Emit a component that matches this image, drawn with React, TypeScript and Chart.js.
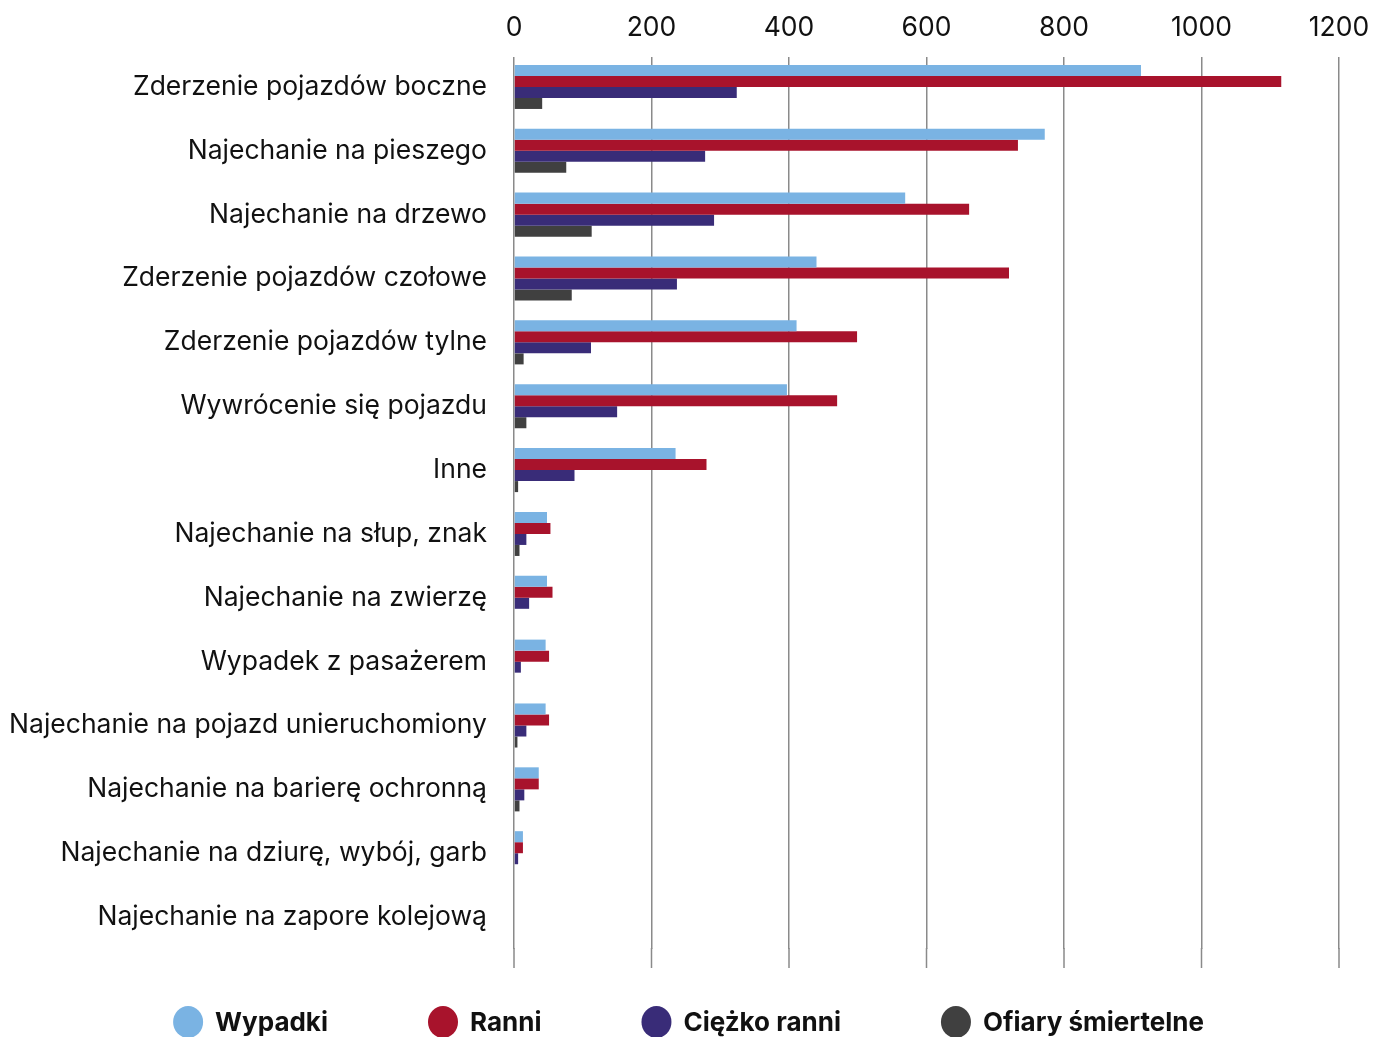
import React, { useEffect, useRef } from "react";
import { Chart, registerables } from "chart.js";

Chart.register(...registerables);

const categories = [
  "Zderzenie pojazdów boczne",
  "Najechanie na pieszego",
  "Najechanie na drzewo",
  "Zderzenie pojazdów czołowe",
  "Zderzenie pojazdów tylne",
  "Wywrócenie się pojazdu",
  "Inne",
  "Najechanie na słup, znak",
  "Najechanie na zwierzę",
  "Wypadek z pasażerem",
  "Najechanie na pojazd unieruchomiony",
  "Najechanie na barierę ochronną",
  "Najechanie na dziurę, wybój, garb",
  "Najechanie na zapore kolejową",
];

const wypadki = [912, 772, 569, 440, 411, 397, 235, 48, 48, 46, 46, 36, 13, 0];
const ranni = [1116, 733, 662, 720, 499, 470, 280, 53, 56, 51, 51, 36, 13, 0];
const ciezkoRanni = [324, 278, 291, 237, 112, 150, 88, 18, 22, 10, 18, 15, 6, 0];
const ofiary = [41, 76, 113, 84, 14, 18, 6, 8, 0, 0, 5, 8, 0, 0];

const seriesLabels = ["Wypadki", "Ranni", "Ciężko ranni", "Ofiary śmiertelne"];
const seriesColors = ["#7AB3E3", "#A8132C", "#392C78", "#404040"];

const xTicks = [0, 200, 400, 600, 800, 1000, 1200];

const GRID_COLOR = "#8a8a8a";

const gridExtendPlugin = {
  id: "gridExtend",
  beforeDatasetsDraw(chart: any) {
    const ctx = chart.ctx;
    const xs = chart.scales.x;
    const { top, bottom } = chart.chartArea;
    ctx.save();
    ctx.strokeStyle = GRID_COLOR;
    ctx.lineWidth = 1.5;
    xTicks.forEach((v) => {
      const px = xs.getPixelForValue(v);
      ctx.beginPath();
      ctx.moveTo(px, bottom - 1);
      ctx.lineTo(px, bottom + 19);
      ctx.stroke();
      ctx.clearRect(px - 2, top, 4, 2);
    });
    ctx.restore();
  },
};

const legendPlugin = {
  id: "customLegend",
  afterDraw(chart: any) {
    const ctx = chart.ctx;
    ctx.save();
    ctx.font = "bold 26px Inter";
    const ds = chart.data.datasets;
    const r = 15;
    const gap = 12;
    const spacing = 100;
    const widths = ds.map((d: any) => ctx.measureText(d.label).width);
    const total =
      widths.reduce((a: number, w: number) => a + 2 * r + gap + w, 0) +
      spacing * (ds.length - 1);
    let x = (chart.width - total) / 2 + 2;
    const y = chart.chartArea.bottom + 73;
    ds.forEach((d: any, i: number) => {
      ctx.fillStyle = d.backgroundColor;
      ctx.beginPath();
      ctx.ellipse(x + r, y, r, r + 1, 0, 0, Math.PI * 2);
      ctx.fill();
      ctx.fillStyle = "#111111";
      ctx.textBaseline = "middle";
      ctx.textAlign = "left";
      ctx.fillText(d.label, x + 2 * r + gap, y + 1);
      x += 2 * r + gap + widths[i] + spacing;
    });
    ctx.restore();
  },
};

export default function App() {
  const canvasRef = useRef<HTMLCanvasElement>(null);

  useEffect(() => {
    document.body.style.margin = "0";
    const canvas = canvasRef.current;
    if (!canvas) return;
    const seriesData = [wypadki, ranni, ciezkoRanni, ofiary];
    const chart = new Chart(canvas, {
      type: "bar",
      data: {
        labels: categories,
        datasets: seriesLabels.map((label, i) => ({
          label,
          data: seriesData[i],
          backgroundColor: seriesColors[i],
          borderWidth: 0,
          categoryPercentage: 0.69,
          barPercentage: 1.0,
        })),
      },
      options: {
        indexAxis: "y",
        responsive: false,
        animation: false,
        layout: { padding: { top: 0, right: 0, bottom: 88, left: 0 } },
        plugins: {
          legend: { display: false },
          tooltip: { enabled: false },
        },
        scales: {
          x: {
            position: "top",
            min: 0,
            max: 1200,
            afterBuildTicks: (axis: any) => {
              axis.ticks = xTicks.map((v) => ({ value: v }));
            },
            afterFit: (scale: any) => {
              scale.height = 55;
              scale.paddingRight = 34;
              scale.paddingLeft = 0;
            },
            grid: {
              color: GRID_COLOR,
              lineWidth: 1.5,
              drawTicks: false,
            },
            border: { display: false },
            ticks: {
              color: "#111111",
              font: { family: "Inter", size: 26.5 },
              padding: 11,
              callback: (v: any) => String(v),
            },
          },
          y: {
            afterFit: (scale: any) => {
              scale.width = 514;
            },
            grid: { display: false, drawTicks: false },
            border: { display: false },
            ticks: {
              color: "#111111",
              font: { family: "Inter", size: 26.5 },
              padding: 27,
              autoSkip: false,
            },
          },
        },
      },
      plugins: [gridExtendPlugin, legendPlugin],
    });
    return () => chart.destroy();
  }, []);

  return (
    <canvas
      ref={canvasRef}
      width={1373}
      height={1037}
      style={{ display: "block", width: 1373, height: 1037 }}
    />
  );
}
